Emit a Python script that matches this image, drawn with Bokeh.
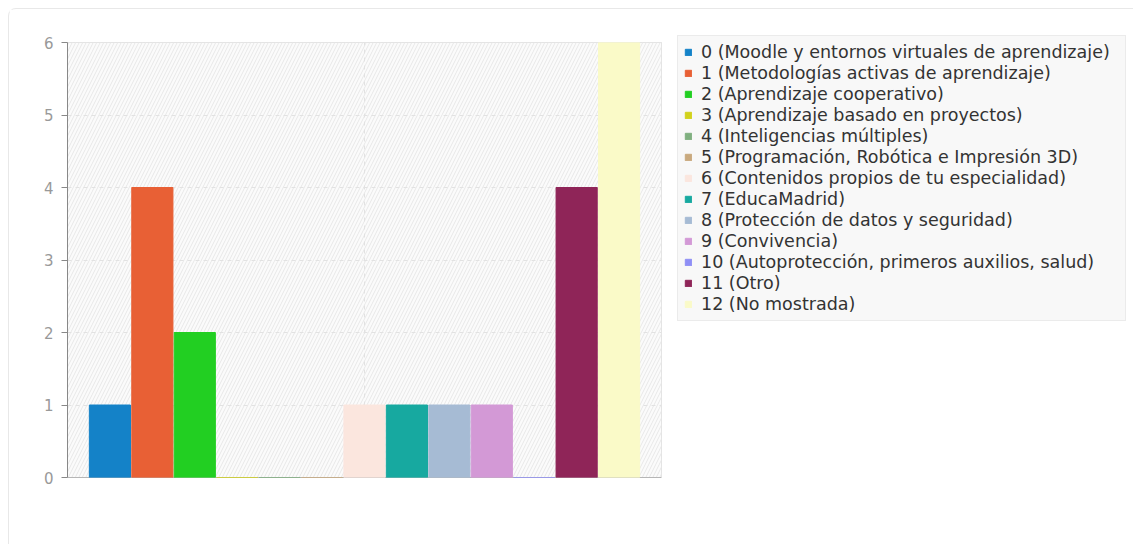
from bokeh.plotting import figure
from bokeh.models import (Range1d, Legend, LegendItem, BoxAnnotation, Span,
                          SingleIntervalTicker, FixedTicker, ColumnDataSource)
from bokeh.embed import file_html
from bokeh.resources import INLINE

categories = [
    "0 (Moodle y entornos virtuales de aprendizaje)",
    "1 (Metodologías activas de aprendizaje)",
    "2 (Aprendizaje cooperativo)",
    "3 (Aprendizaje basado en proyectos)",
    "4 (Inteligencias múltiples)",
    "5 (Programación, Robótica e Impresión 3D)",
    "6 (Contenidos propios de tu especialidad)",
    "7 (EducaMadrid)",
    "8 (Protección de datos y seguridad)",
    "9 (Convivencia)",
    "10 (Autoprotección, primeros auxilios, salud)",
    "11 (Otro)",
    "12 (No mostrada)",
]
values = [1, 4, 2, 0, 0, 0, 1, 1, 1, 1, 0, 4, 6]
colors = ["#1482c8", "#e86035", "#22cf22", "#d2d21c", "#80b080", "#c9a97e",
          "#fbe6de", "#17a9a0", "#a6bbd4", "#d399d6", "#8f8ff5", "#8f2558",
          "#fafac8"]
y_ticks_interval = 1

n = len(categories)
src = ColumnDataSource(dict(x=list(range(n)), top=values, color=colors,
                            label=categories))

p = figure(frame_width=594, frame_height=435, output_backend="svg",
           toolbar_location=None,
           x_range=Range1d(-1, n), y_range=Range1d(0, max(values)),
           min_border_left=58, min_border_top=33, min_border_right=0,
           min_border_bottom=67, background_fill_color="#fbfbfb",
           border_fill_color="white", outline_line_color="#dddddd")
p.styles = {"margin": "8px 0 0 8px",
            "border-top": "1px solid #e8e8e8", "border-left": "1px solid #e8e8e8",
            "border-top-left-radius": "8px"}

bg = BoxAnnotation(level="image", fill_color="#fbfbfb", fill_alpha=1,
                   hatch_pattern="/", hatch_color="#e8e8e8", hatch_scale=7,
                   hatch_weight=1, line_color=None)
p.add_layout(bg)

# x axis base line (drawn beneath the bars, like the original)
p.add_layout(Span(location=0, dimension="width", line_color="#888888",
                  line_width=1, level="underlay"))

r = p.vbar(x="x", top="top", bottom=0, width=0.97, fill_color="color",
           line_color="color", line_width=1, source=src)

# axes
p.xaxis.visible = False
p.xgrid.ticker = FixedTicker(ticks=[(n - 1) / 2])

p.yaxis.ticker = SingleIntervalTicker(interval=y_ticks_interval, num_minor_ticks=0)
p.yaxis.major_tick_out = 6
p.yaxis.major_tick_in = 0
p.yaxis.axis_line_color = "#888888"
p.yaxis.major_tick_line_color = "#888888"
p.yaxis.major_label_text_font = "DejaVu Sans"
p.yaxis.major_label_text_font_size = "15px"
p.yaxis.major_label_text_color = "#999999"
p.yaxis.major_label_standoff = 8

p.grid.grid_line_color = "#e2e2e2"
p.grid.grid_line_dash = "4 4"

items = [LegendItem(label=lab, renderers=[r], index=i)
         for i, lab in enumerate(categories)]
legend = Legend(items=items, location=(16, 156), margin=0, padding=6,
                spacing=1, label_height=20, glyph_width=8, glyph_height=8,
                label_standoff=9, label_width=418,
                label_text_font="DejaVu Sans", label_text_font_size="17.5px",
                label_text_color="#333333", background_fill_color="#f8f8f8",
                background_fill_alpha=1, border_line_color="#dedede",
                border_line_width=1)
p.add_layout(legend, "right")

open("out.html", "w").write(file_html(p, INLINE))
